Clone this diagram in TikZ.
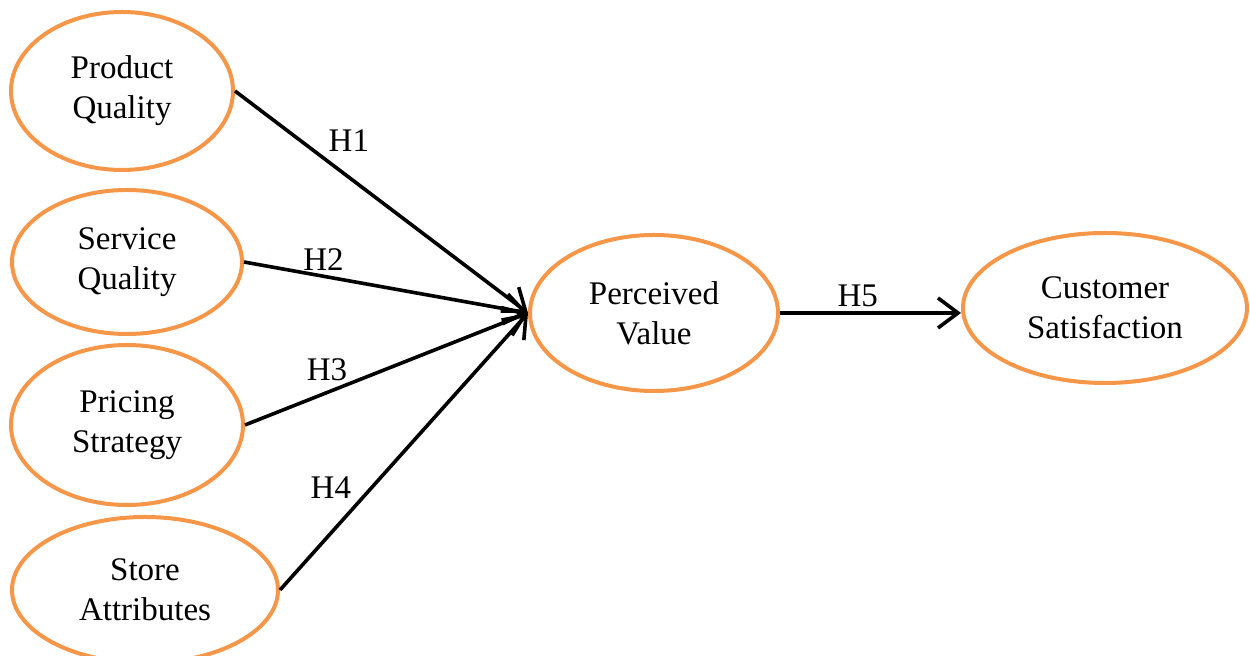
\documentclass[tikz,border=0pt]{standalone}
\usepackage{fontspec}
\setmainfont{Liberation Serif}
\usetikzlibrary{shapes.geometric,arrows.meta}
\definecolor{ellorange}{RGB}{245,150,72}

\begin{document}
\begin{tikzpicture}[x=0.5pt, y=-0.5pt,
    var/.style={ellipse, draw=ellorange, line width=2pt, inner sep=0pt, align=center,
      font=\fontsize{16.5}{20}\selectfont},
    hyp/.style={->, line width=1.8pt, >={Straight Barb[length=10pt,width=15pt]}},
    lbl/.style={inner sep=2pt, font=\fontsize{16.5}{20}\selectfont}]
    \useasboundingbox (0,0) rectangle (1250,656);
    \node [var, minimum width=111pt, minimum height=79pt] (pq) at (122, 91) {Product\\Quality};
    \node [var, minimum width=115pt, minimum height=72pt] (sq) at (127, 262) {Service\\Quality};
    \node [var, minimum width=116pt, minimum height=80pt] (ps) at (127, 425) {Pricing\\Strategy};
    \node [var, minimum width=133pt, minimum height=73pt] (sa) at (145, 590) {Store\\Attributes};
    \node [var, minimum width=124pt, minimum height=78pt] (pv) at (654, 313) {Perceived\\Value};
    \node [var, minimum width=142pt, minimum height=75pt] (cs) at (1105, 308) {Customer\\Satisfaction};
    \draw [hyp] (pq.east) to node [lbl, pos=.3, above right] {H1} (pv.west);
    \draw [hyp] (sq.east) to node [lbl, pos=.28, above] {H2} (pv.west);
    \draw [hyp] (ps.east) to node [lbl, pos=.29, above=3pt] {H3} (pv.west);
    \draw [hyp] (sa.east) to node [lbl, pos=.31, above left] {H4} (pv.west);
    \draw [hyp] (pv.east) to node [lbl, pos=.43, above] {H5} (pv.east -| cs.west);
  \end{tikzpicture}
\end{document}
